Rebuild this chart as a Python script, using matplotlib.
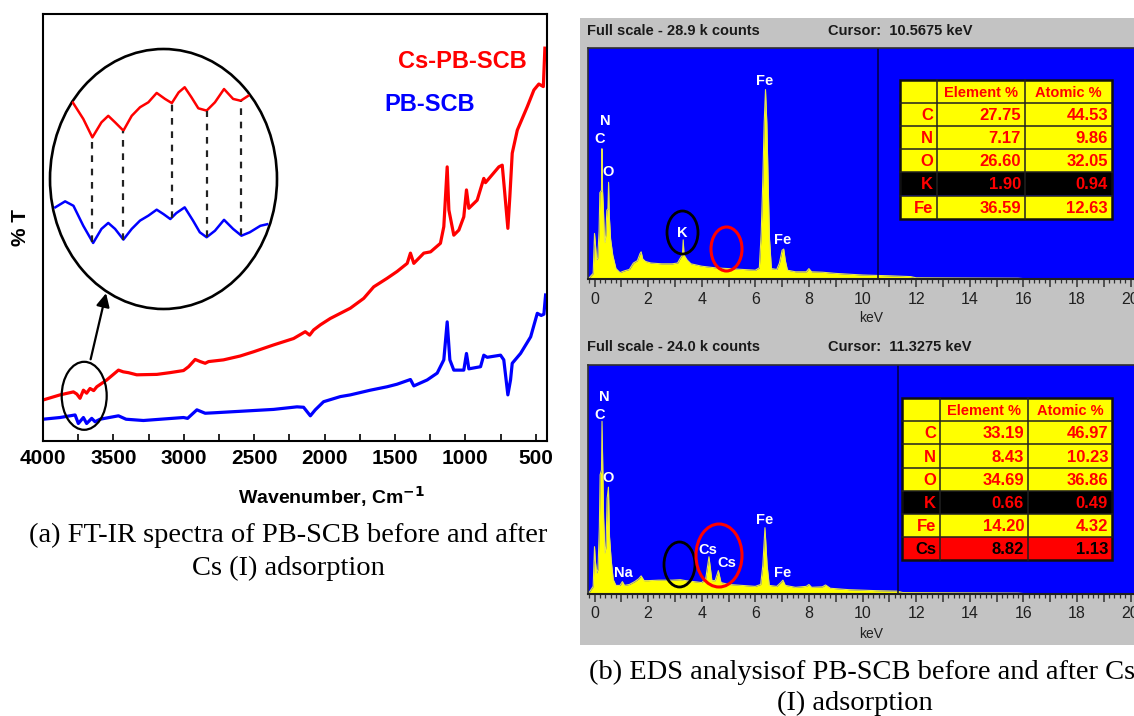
import matplotlib
matplotlib.use('Agg')
import matplotlib.pyplot as plt
import numpy as np
from matplotlib.patches import Ellipse, Rectangle
from matplotlib.ticker import MultipleLocator, FuncFormatter
from matplotlib import font_manager

# ---------------- FT-IR spectra (wavenumber cm-1, %T arbitrary) ----------------
ir_red_wn = [4000, 3879, 3784, 3760, 3737, 3713, 3690, 3666, 3640, 3618, 3547, 3464, 3430,
             3393, 3334, 3191, 3100, 3002, 2966, 2919, 2883, 2848, 2824, 2718, 2600, 2504,
             2362, 2220, 2137, 2106, 2078, 2030, 1959, 1817, 1722, 1651, 1556, 1485, 1413,
             1390, 1366, 1295, 1247, 1177, 1153, 1129, 1117, 1082, 1046, 1011, 992, 975,
             916, 869, 857, 762, 738, 722, 698, 684, 667, 631, 560, 513, 478, 446, 435]
ir_red_t = [9.6, 10.8, 11.5, 11.0, 10.0, 11.9, 11.2, 12.3, 11.8, 12.7, 14.3, 16.6, 16.2,
            16.0, 15.5, 15.6, 16.0, 16.5, 17.4, 19.1, 18.6, 18.2, 18.6, 19.0, 19.9, 20.9,
            22.5, 24.0, 25.6, 24.8, 26.0, 27.2, 28.7, 31.1, 33.4, 36.1, 38.1, 39.7, 41.6,
            44.0, 41.6, 44.0, 44.3, 46.3, 50.2, 64.2, 54.1, 48.2, 49.4, 52.5, 58.8, 54.5,
            56.4, 61.5, 60.5, 64.2, 64.6, 58.8, 49.8, 57.2, 67.4, 72.8, 78.3, 82.2, 83.6, 83.0, 92.0]

ir_blue_wn = [4000, 3879, 3772, 3749, 3713, 3690, 3654, 3630, 3595, 3464, 3410, 3287, 3002,
              2973, 2907, 2848, 2789, 2362, 2196, 2149, 2101, 2066, 2007, 1888, 1817, 1675,
              1556, 1485, 1390, 1366, 1271, 1200, 1153, 1129, 1110, 1082, 1011, 992, 975,
              892, 869, 845, 750, 727, 698, 679, 667, 608, 536, 489, 461, 442, 430]
ir_blue_t = [5.1, 5.5, 6.1, 4.1, 5.5, 4.1, 5.3, 4.5, 5.1, 5.9, 5.1, 4.8, 5.5,
             5.3, 7.3, 6.5, 6.6, 7.4, 8.0, 7.9, 5.9, 7.3, 9.2, 10.4, 10.8, 11.9,
             12.7, 13.3, 14.4, 12.9, 14.3, 15.9, 19.0, 27.9, 19.0, 16.6, 16.6, 20.5, 16.9,
             17.4, 20.1, 19.6, 20.1, 19.0, 10.8, 14.3, 18.2, 20.5, 24.4, 29.9, 29.4, 29.7, 34.2]

# magnified 3850-3570 cm-1 region shown in the circle
zoom_red_wn = [3830, 3816, 3804, 3792, 3783, 3774, 3763, 3752, 3741, 3730, 3719, 3708,
               3699, 3690, 3682, 3673, 3664, 3653, 3642, 3630, 3618, 3608, 3598]
zoom_red_t = [79.5, 73.1, 66.0, 71.8, 74.3, 71.8, 68.6, 74.3, 77.6, 79.5, 83.1, 80.8,
              79.2, 83.3, 85.3, 81.4, 77.2, 76.3, 79.5, 84.6, 80.8, 80.1, 82.0]
zoom_blue_wn = [3853, 3840, 3829, 3816, 3803, 3792, 3783, 3774, 3763, 3752, 3741, 3730,
                3719, 3710, 3701, 3693, 3682, 3671, 3662, 3653, 3642, 3630, 3618, 3607,
                3596, 3582, 3573]
zoom_blue_t = [39.1, 41.4, 39.7, 32.0, 25.4, 30.8, 33.1, 30.8, 26.7, 30.8, 34.0, 35.9,
               38.2, 36.5, 34.6, 36.9, 39.1, 34.0, 29.5, 27.6, 30.1, 34.3, 30.8, 28.2,
               29.5, 32.0, 32.6]
zoom_bands = [3804, 3763, 3699, 3653, 3608]

# ---------------- EDS spectra (keV, k counts) ----------------
eds1_kev = [-0.24, -0.05, 0.0, 0.03, 0.08, 0.12, 0.17, 0.20, 0.26, 0.277, 0.30, 0.33, 0.37,
            0.39, 0.42, 0.46, 0.50, 0.525, 0.55, 0.6, 0.68, 0.8, 0.95, 1.1, 1.3, 1.45, 1.6,
            1.7, 1.74, 1.8, 1.9, 2.1, 2.5, 2.9, 3.1, 3.2, 3.28, 3.31, 3.34, 3.45, 3.6, 4.0,
            4.5, 5.0, 5.5, 6.0, 6.15, 6.22, 6.28, 6.33, 6.38, 6.43, 6.48, 6.53, 6.6, 6.8,
            6.9, 7.0, 7.06, 7.12, 7.2, 7.5, 7.9, 8.0, 8.1, 8.5, 9.0, 10.0, 11.0, 11.8, 12.0,
            14.0, 15.8, 16.0, 20.2]
eds1_counts = [0, 0.7, 5.7, 4.5, 2.4, 2.6, 6.0, 10.8, 11.1, 16.3, 11.0, 9.0, 5.0,
               4.6, 5.5, 8.6, 8.8, 12.1, 8.0, 5.0, 3.0, 1.3, 0.8, 1.0, 1.2, 2.0, 2.3,
               3.2, 3.4, 2.5, 2.2, 2.0, 1.9, 1.9, 2.0, 2.6, 3.0, 4.9, 3.0, 2.4, 1.9, 1.6,
               1.4, 1.3, 1.2, 1.1, 1.4, 5.8, 12.4, 19.5, 23.7, 19.5, 12.0, 5.0, 1.3, 1.2,
               2.0, 3.6, 3.75, 2.3, 1.1, 0.9, 0.9, 1.3, 0.9, 0.85, 0.7, 0.5, 0.4, 0.3, 0.15,
               0.12, 0.1, 0.05, 0]
eds1_full_scale = 28.9
eds1_cursor = 10.5675

eds2_kev = [-0.24, -0.05, 0.0, 0.03, 0.08, 0.13, 0.18, 0.21, 0.26, 0.28, 0.31, 0.34, 0.39,
            0.43, 0.47, 0.52, 0.56, 0.62, 0.7, 0.8, 0.95, 1.04, 1.12, 1.3, 1.5, 1.65, 1.74,
            1.85, 2.0, 2.4, 2.9, 3.2, 3.4, 3.7, 4.0, 4.15, 4.27, 4.38, 4.5, 4.62, 4.72, 5.0,
            5.5, 6.0, 6.2, 6.28, 6.36, 6.44, 6.52, 6.8, 6.95, 7.03, 7.12, 7.5, 7.9, 8.0,
            8.1, 8.5, 8.62, 8.8, 9.5, 10.5, 11.3, 11.5, 14.0, 15.8, 16.0, 20.2]
eds2_counts = [0, 0.8, 4.96, 3.5, 2.2, 2.6, 7.0, 12.5, 13.0, 18.1, 13.0, 8.0, 4.3,
               5.0, 10.0, 11.2, 6.0, 3.6, 1.5, 0.9, 0.9, 1.3, 0.9, 1.0, 1.3, 1.6, 1.9,
               1.4, 1.4, 1.45, 1.45, 1.5, 1.4, 1.3, 1.2, 1.6, 3.9, 1.4, 1.4, 2.45, 1.2, 1.0,
               0.9, 0.8, 1.0, 3.0, 6.95, 3.0, 0.9, 0.8, 1.2, 1.45, 0.9, 0.7, 0.8, 1.0,
               0.7, 0.75, 0.95, 0.6, 0.45, 0.35, 0.3, 0.15, 0.12, 0.1, 0.05, 0]
eds2_full_scale = 24.0
eds2_cursor = 11.3275

# quantification tables
elements_before = ['C', 'N', 'O', 'K', 'Fe']
element_pct_before = [27.75, 7.17, 26.60, 1.90, 36.59]
atomic_pct_before = [44.53, 9.86, 32.05, 0.94, 12.63]
elements_after = ['C', 'N', 'O', 'K', 'Fe', 'Cs']
element_pct_after = [33.19, 8.43, 34.69, 0.66, 14.20, 8.82]
atomic_pct_after = [46.97, 10.23, 36.86, 0.49, 4.32, 1.13]

W, H = 1134, 716

names = {f.name for f in font_manager.fontManager.ttflist}
NARROW = 'Liberation Sans Narrow' if 'Liberation Sans Narrow' in names else 'Liberation Sans'
plt.rcParams['font.family'] = ['Liberation Sans', 'DejaVu Sans']


def box(l, t, r, b):
    return [l / W, 1 - b / H, (r - l) / W, (b - t) / H]


fig = plt.figure(figsize=(W / 100, H / 100), dpi=100)

# page layer in pixel units
page = fig.add_axes([0, 0, 1, 1], zorder=0)
page.set_xlim(0, W)
page.set_ylim(H, 0)
page.axis('off')
page.add_patch(Rectangle((580, 18), W - 580, 627, color='#c3c3c3', lw=0))

# ---------------- (a) FT-IR ----------------
ax = fig.add_axes(box(43, 14, 547, 441), zorder=2)
ax.plot(ir_red_wn, ir_red_t, color='#ff0000', lw=2.3)
ax.plot(ir_blue_wn, ir_blue_t, color='#0000ff', lw=2.3)
ax.set_xlim(4000, 420)
ax.set_ylim(0, 100)
ax.set_yticks([])
ax.xaxis.set_major_locator(MultipleLocator(500))
ax.xaxis.set_minor_locator(MultipleLocator(250))
ax.tick_params(axis='x', which='both', direction='in', length=5, width=1.2, pad=6,
               labelsize=15)
for lab in ax.get_xticklabels():
    lab.set_fontweight('bold')
for s in ax.spines.values():
    s.set_linewidth(1.5)
ax.set_ylabel('% T', fontsize=15, fontweight='bold', labelpad=9)
page.text(331, 497, r'Wavenumber, Cm$^{\mathbf{-1}}$', fontsize=14, fontweight='bold',
          ha='center', va='center')
ax.text(0.833, 0.888, 'Cs-PB-SCB', color='#ff0000', fontsize=17, fontweight='bold',
        ha='center', va='center', transform=ax.transAxes)
ax.text(0.768, 0.789, 'PB-SCB', color='#0000ff', fontsize=17, fontweight='bold',
        ha='center', va='center', transform=ax.transAxes)

# magnified circle
ins = fig.add_axes(box(50, 49, 277, 309), zorder=3)
ins.axis('off')
ins.set_xlim(3860, 3560)
ins.set_ylim(0, 100)
ring = Ellipse((0.5, 0.5), 1, 1, transform=ins.transAxes, fill=False, ec='k', lw=1.9,
               clip_on=False)
ins.add_patch(ring)
for wn_, t_, c in [(zoom_red_wn, zoom_red_t, '#ff0000'), (zoom_blue_wn, zoom_blue_t, '#0000ff')]:
    ln, = ins.plot(wn_, t_, color=c, lw=1.8, solid_joinstyle='round')
    ln.set_clip_path(ring)
top = np.interp(zoom_bands, zoom_red_wn[::-1], zoom_red_t[::-1])
bot = np.interp(zoom_bands, zoom_blue_wn[::-1], zoom_blue_t[::-1])
ins.vlines(zoom_bands, bot, top, colors='#222222', linestyles=(0, (3, 3)), lw=1.6)

# overlay for annotation shapes and tables (pixel units)
ov = fig.add_axes([0, 0, 1, 1], zorder=6)
ov.set_xlim(0, W)
ov.set_ylim(H, 0)
ov.axis('off')
ov.add_patch(Ellipse((84.2, 395.8), 45, 68, fill=False, ec='k', lw=1.6))
ov.annotate('', xy=(106.7, 290.5), xytext=(90, 362),
            arrowprops=dict(arrowstyle='-|>', color='k', lw=1.6, mutation_scale=20))

page.text(288, 535, '(a) FT-IR spectra of PB-SCB before and after', ha='center', va='center',
          family='Liberation Serif', fontsize=20.5)
page.text(288, 568, 'Cs (I) adsorption', ha='center', va='center',
          family='Liberation Serif', fontsize=20.5)
page.text(589, 672, '(b) EDS analysisof PB-SCB before and after Cs', ha='left', va='center',
          family='Liberation Serif', fontsize=20.5)
page.text(855, 703, '(I) adsorption', ha='center', va='center',
          family='Liberation Serif', fontsize=20.5)


# ---------------- (b) EDS ----------------
def even_label(v, pos):
    n = int(round(v))
    return str(n) if n % 2 == 0 else ''


def eds_panel(t, b, kev, counts, full_scale, cursor, labels):
    e = fig.add_axes(box(588, t, 1134, b), zorder=2)
    e.set_facecolor('#0000ff')
    e.fill_between(kev, 0, counts, color='#ffff00', lw=0)
    e.plot(kev, counts, color='#e6e650', lw=0.8)
    e.axvline(cursor, color='#000040', lw=1.1)
    e.set_xlim(-0.243, 20.13)
    e.set_ylim(0, full_scale)
    e.set_yticks([])
    e.xaxis.set_major_locator(MultipleLocator(1))
    e.xaxis.set_minor_locator(MultipleLocator(0.2))
    e.xaxis.set_major_formatter(FuncFormatter(even_label))
    e.tick_params(axis='x', which='major', direction='out', length=6, width=1.1,
                  color='#303030', labelcolor='#202020', labelsize=11.5, pad=3)
    e.tick_params(axis='x', which='minor', direction='out', length=3, width=0.9,
                  color='#303030')
    for lab in e.get_xticklabels():
        lab.set_family(NARROW)
    e.spines['right'].set_visible(False)
    for k in ('top', 'left'):
        e.spines[k].set_color('#303030')
        e.spines[k].set_linewidth(1.2)
    e.spines['bottom'].set_color('#202020')
    e.spines['bottom'].set_linewidth(1.5)
    for txt, x, y in labels:
        e.text(x, y, txt, color='white', fontsize=10.5, fontweight='bold', family=NARROW,
               ha='center', va='center')
    return e


eds_panel(48, 279, eds1_kev, eds1_counts, eds1_full_scale, eds1_cursor,
          [('N', 0.39, 19.8), ('C', 0.2, 17.5), ('O', 0.5, 13.4), ('Fe', 6.36, 24.8),
           ('K', 3.26, 5.75), ('Fe', 7.03, 4.9)])
eds_panel(365, 594, eds2_kev, eds2_counts, eds2_full_scale, eds2_cursor,
          [('N', 0.36, 20.6), ('C', 0.2, 18.8), ('O', 0.5, 12.2), ('Na', 1.06, 2.2),
           ('Cs', 4.24, 4.6), ('Cs', 4.94, 3.25), ('Fe', 6.36, 7.75), ('Fe', 7.03, 2.2)])

for y0, fs, cur in [(31, eds1_full_scale, eds1_cursor), (347, eds2_full_scale, eds2_cursor)]:
    page.text(587, y0, f'Full scale - {fs:.1f} k counts', ha='left', va='center',
              family=NARROW, fontweight='bold', fontsize=10.5, color='#1a1a1a')
    page.text(828, y0, f'Cursor:  {cur:.4f} keV', ha='left', va='center',
              family=NARROW, fontweight='bold', fontsize=10.5, color='#1a1a1a')
for y0 in (318, 634):
    page.text(871, y0, 'keV', ha='center', va='center', family=NARROW, fontsize=10,
              color='#202020')

# peak markers
ov.add_patch(Ellipse((682.5, 232.5), 31, 43, fill=False, ec='black', lw=2))
ov.add_patch(Ellipse((726.5, 249), 31, 44, fill=False, ec='#ff0000', lw=2.2))
ov.add_patch(Ellipse((679.5, 564.5), 31, 45, fill=False, ec='black', lw=2))
ov.add_patch(Ellipse((719, 555.5), 46, 63, fill=False, ec='#ff0000', lw=2.2))


def draw_table(left, top, edges, row_h, elements, el_pct, at_pct):
    right = edges[-1]
    n = len(elements) + 1
    rows = [('', 'Element %', 'Atomic %')] + [
        (el, f'{a:.2f}', f'{b:.2f}') for el, a, b in zip(elements, el_pct, at_pct)]
    for i, row in enumerate(rows):
        y = top + i * row_h
        el = row[0]
        bg, fg = '#ffff00', '#ff0000'
        if el == 'K':
            bg = '#000000'
        elif el == 'Cs':
            bg, fg = '#ff0000', '#000000'
        ov.add_patch(Rectangle((left, y), right - left, row_h, color=bg, lw=0))
        for j, txt in enumerate(row):
            x0, x1 = edges[j], edges[j + 1]
            if i == 0:
                ov.text((x0 + x1) / 2, y + row_h / 2 + 1, txt, color=fg, ha='center',
                        va='center', fontsize=10.5, fontweight='bold', family=NARROW)
            else:
                ov.text(x1 - 4, y + row_h / 2 + 1, txt, color=fg, ha='right', va='center',
                        fontsize=12, fontweight='bold')
    for i in range(1, n):
        ov.plot([left, right], [top + i * row_h] * 2, color='#202020', lw=1.1)
    for x in edges[1:-1]:
        ov.plot([x, x], [top, top + n * row_h], color='#202020', lw=1.1)
    ov.add_patch(Rectangle((left, top), right - left, n * row_h, fill=False,
                           ec='#101010', lw=1.8))


draw_table(900, 80, [900, 937, 1025, 1112], 23.1, elements_before, element_pct_before,
           atomic_pct_before)
draw_table(902, 398, [902, 940, 1028, 1112], 23.2, elements_after, element_pct_after,
           atomic_pct_after)

fig.savefig('out.png', dpi=100)
